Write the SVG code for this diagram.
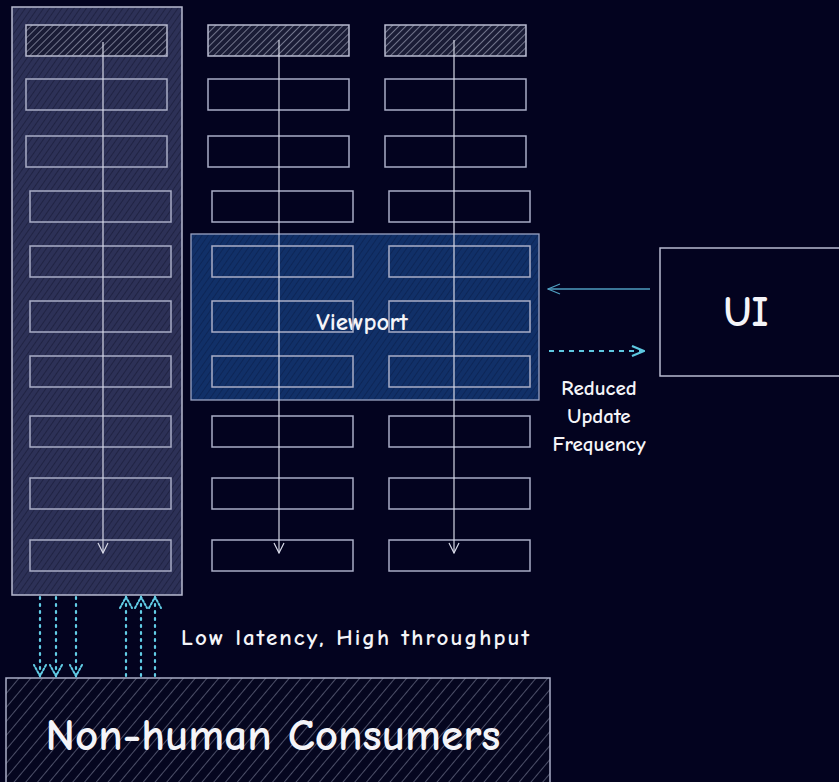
<svg xmlns="http://www.w3.org/2000/svg" width="839" height="782" viewBox="0 0 839 782">
<style>
.cell{fill:none;stroke:#a9adc6;stroke-width:1.5}
.hcell{fill:url(#hatchLight);stroke:#b8bbd0;stroke-width:1.5}
.flow{stroke:#d6d8e6;stroke-width:1.2;fill:none}
.dot{stroke:#62cde6;stroke-width:2.2;stroke-dasharray:2 5;fill:none;stroke-linecap:round}
.txt{font-family:"Comic Neue","Open Sans","Liberation Sans",sans-serif;fill:#f4f4f8;font-weight:bold}
</style>
<defs>
<pattern id="hatchLight" width="5" height="5" patternUnits="userSpaceOnUse" patternTransform="rotate(45)">
<rect width="5" height="5" fill="#1a1c36"/>
<line x1="0" y1="0" x2="0" y2="5" stroke="#aeb1c6" stroke-width="1.2"/>
</pattern>
<pattern id="hatchCol" width="5" height="5" patternUnits="userSpaceOnUse" patternTransform="rotate(35)">
<rect width="5" height="5" fill="#2d3157"/>
<line x1="0" y1="0" x2="0" y2="5" stroke="#1a1d3a" stroke-width="1.4"/>
</pattern>
<pattern id="hatchVp" width="5" height="5" patternUnits="userSpaceOnUse" patternTransform="rotate(35)">
<rect width="5" height="5" fill="#113068"/>
<line x1="0" y1="0" x2="0" y2="5" stroke="#0a2150" stroke-width="1.4"/>
</pattern>
<pattern id="hatchBottom" width="9" height="9" patternUnits="userSpaceOnUse" patternTransform="rotate(40)">
<rect width="9" height="9" fill="#05061f"/>
<line x1="0" y1="0" x2="0" y2="9" stroke="#73768f" stroke-width="1.3"/>
</pattern>
<marker id="ah" markerWidth="12" markerHeight="12" refX="11" refY="6" orient="auto" markerUnits="userSpaceOnUse">
<path d="M1,1 L11,6 L1,11" fill="none" stroke="#d6d8e6" stroke-width="1.2"/>
</marker>
<marker id="ahBlue" markerWidth="14" markerHeight="12" refX="13" refY="6" orient="auto" markerUnits="userSpaceOnUse">
<path d="M1,1 L13,6 L1,11" fill="none" stroke="#4f9ec0" stroke-width="1.2"/>
</marker>
<marker id="ahCyan" markerWidth="14" markerHeight="12" refX="13" refY="6" orient="auto" markerUnits="userSpaceOnUse">
<path d="M1,1 L13,6 L1,11" fill="none" stroke="#5ec8e0" stroke-width="2.2"/>
</marker>
<marker id="ahDot" markerWidth="16" markerHeight="16" refX="13" refY="8" orient="auto" markerUnits="userSpaceOnUse">
<path d="M2,2 L13,8 L2,14" fill="none" stroke="#62cde6" stroke-width="2" stroke-dasharray="2 2" stroke-linecap="round"/>
</marker>
</defs>
<rect width="839" height="782" fill="#03031f"/>

<g id="column-1">
<rect x="12" y="7" width="170" height="588" fill="url(#hatchCol)" stroke="#b8bbd0" stroke-width="1.5"/>
<rect class="hcell" x="26" y="25" width="141" height="31"/>
<rect class="cell" x="26" y="79" width="141" height="31"/>
<rect class="cell" x="26" y="136" width="141" height="31"/>
<rect class="cell" x="30" y="191" width="141" height="31"/>
<rect class="cell" x="30" y="246" width="141" height="31"/>
<rect class="cell" x="30" y="301" width="141" height="31"/>
<rect class="cell" x="30" y="356" width="141" height="31"/>
<rect class="cell" x="30" y="416" width="141" height="31"/>
<rect class="cell" x="30" y="478" width="141" height="31"/>
<rect class="cell" x="30" y="540" width="141" height="31"/>
</g>

<g id="viewport">
<rect x="191" y="234" width="348" height="166" fill="url(#hatchVp)" stroke="#9aa4c4" stroke-width="1.3"/>
<text class="txt" x="362" y="330" font-size="25" text-anchor="middle">Viewport</text>
</g>

<g id="column-2">
<rect class="hcell" x="208" y="25" width="141" height="31"/>
<rect class="cell" x="208" y="79" width="141" height="31"/>
<rect class="cell" x="208" y="136" width="141" height="31"/>
<rect class="cell" x="212" y="191" width="141" height="31"/>
<rect class="cell" x="212" y="246" width="141" height="31"/>
<rect class="cell" x="212" y="301" width="141" height="31"/>
<rect class="cell" x="212" y="356" width="141" height="31"/>
<rect class="cell" x="212" y="416" width="141" height="31"/>
<rect class="cell" x="212" y="478" width="141" height="31"/>
<rect class="cell" x="212" y="540" width="141" height="31"/>
</g>

<g id="column-3">
<rect class="hcell" x="385" y="25" width="141" height="31"/>
<rect class="cell" x="385" y="79" width="141" height="31"/>
<rect class="cell" x="385" y="136" width="141" height="31"/>
<rect class="cell" x="389" y="191" width="141" height="31"/>
<rect class="cell" x="389" y="246" width="141" height="31"/>
<rect class="cell" x="389" y="301" width="141" height="31"/>
<rect class="cell" x="389" y="356" width="141" height="31"/>
<rect class="cell" x="389" y="416" width="141" height="31"/>
<rect class="cell" x="389" y="478" width="141" height="31"/>
<rect class="cell" x="389" y="540" width="141" height="31"/>
</g>

<g id="ui">
<rect x="660" y="248" width="180" height="128" fill="#03031f" stroke="#b8bbd0" stroke-width="1.5"/>
<text class="txt" x="746" y="326" font-size="42" text-anchor="middle">UI</text>
</g>

<g id="consumers">
<rect x="6" y="678" width="544" height="110" fill="url(#hatchBottom)" stroke="#a9adc6" stroke-width="1.5"/>
<text class="txt" x="273" y="750" font-size="44" text-anchor="middle" textLength="455" lengthAdjust="spacingAndGlyphs">Non-human Consumers</text>
</g>

<g id="connectors">
<line class="flow" x1="103" y1="42" x2="103" y2="553" marker-end="url(#ah)"/>
<line class="flow" x1="279" y1="40" x2="279" y2="553" marker-end="url(#ah)"/>
<line class="flow" x1="454" y1="40" x2="454" y2="553" marker-end="url(#ah)"/>
<line x1="650" y1="289" x2="548" y2="289" stroke="#4f9ec0" stroke-width="1.3" marker-end="url(#ahBlue)"/>
<line x1="549" y1="351" x2="644" y2="351" stroke="#5ec8e0" stroke-width="2.2" stroke-dasharray="5 5" marker-end="url(#ahCyan)"/>
<line class="dot" x1="40" y1="597" x2="40" y2="676" marker-end="url(#ahDot)"/>
<line class="dot" x1="56" y1="597" x2="56" y2="676" marker-end="url(#ahDot)"/>
<line class="dot" x1="76" y1="597" x2="76" y2="676" marker-end="url(#ahDot)"/>
<line class="dot" x1="126" y1="676" x2="126" y2="597" marker-end="url(#ahDot)"/>
<line class="dot" x1="141" y1="676" x2="141" y2="597" marker-end="url(#ahDot)"/>
<line class="dot" x1="155" y1="676" x2="155" y2="597" marker-end="url(#ahDot)"/>
</g>

<g id="labels">
<text class="txt" x="599" y="395" font-size="21" text-anchor="middle">Reduced</text>
<text class="txt" x="599" y="423" font-size="21" text-anchor="middle">Update</text>
<text class="txt" x="599" y="451" font-size="21" text-anchor="middle">Frequency</text>
<text class="txt" x="355" y="645" font-size="23" text-anchor="middle" textLength="348">Low latency, High throughput</text>
</g>
</svg>
